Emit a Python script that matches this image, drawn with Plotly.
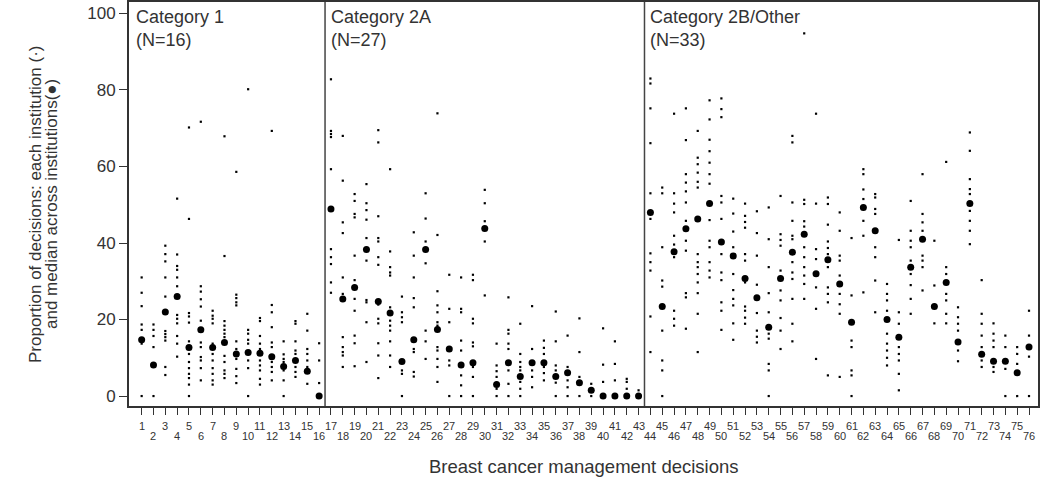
import plotly.graph_objects as go

decisions = list(range(1, 77))

# median across institutions, one per decision
medians = [
    14.7, 8.1, 22.0, 26.0, 12.7, 17.3, 12.7, 14.0, 11.0, 11.4, 11.2, 10.3, 7.7, 9.3, 6.5, 0.0,
    48.9, 25.4, 28.4, 38.3, 24.7, 21.7, 9.0, 14.7, 38.3, 17.4, 12.3, 8.1, 8.7, 43.8,
    3.0, 8.7, 5.1, 8.7, 8.7, 5.1, 6.1, 3.5, 1.5, 0.0, 0.0, 0.0, 0.0,
    48.0, 23.4, 37.7, 43.7, 46.3, 50.3, 40.3, 36.6, 30.7, 25.7, 18.0, 30.7, 37.6, 42.3,
    32.0, 35.6, 29.3, 19.3, 49.3, 43.2, 20.0, 15.4, 33.7, 41.0, 23.4, 29.7, 14.1, 50.3,
    10.9, 9.1, 9.1, 6.1, 12.8,
]

# each institution's proportion, per decision (Category 1: decisions 1-16)
inst_cat1 = [
    [31, 27, 23.5, 18.7, 17.3, 15, 14.5, 13.7, 0],
    [18.7, 17.3, 15.7, 12.8, 8, 0],
    [39.3, 37.1, 35.2, 31, 26, 22, 17, 16.2, 15.4, 14.5, 7.6, 5.5],
    [51.6, 37, 34, 33, 31, 28.7, 26, 21.2, 20.2, 19, 15.7, 13.7, 10.3],
    [70.2, 46.3, 21.7, 20.8, 19.2, 14.3, 12.7, 11, 8.9, 7.3, 5.8, 4.7, 3, 0],
    [71.7, 28.7, 27.3, 25.3, 23.4, 19.7, 17.3, 14, 12.8, 10.2, 9.3, 7.3, 4.1],
    [22.3, 21, 20.2, 19, 13.7, 12.7, 11, 9.3, 7.3, 5.8, 4.1, 3],
    [67.9, 36.6, 19.6, 18.4, 17.3, 16.3, 15.4, 14, 10.5, 8.9, 6.7, 5.8, 4.7],
    [58.6, 26.5, 25.6, 24.5, 23.7, 14.3, 12.3, 11, 9.7, 7.1, 5.2, 3.4],
    [80.2, 17.3, 16.3, 14.7, 13.7, 11.4, 9.3, 7.3, 0],
    [20.4, 19.6, 15.7, 13.7, 12.3, 11.2, 9.3, 8, 6.7, 4.5, 3],
    [69.3, 23.8, 21.9, 18, 14, 12.8, 10.3, 8.9, 7.6, 6.3, 4.1],
    [14.3, 10.9, 9.7, 8.9, 7.7, 6.7, 4.1, 0],
    [19.6, 18.9, 14.3, 11.9, 11, 9.3, 7.6, 6.3, 5],
    [21.5, 17.1, 12.3, 11, 9.3, 7.6, 6.5, 3.2],
    [13.8, 9.3, 3.4, 0],
]

# Category 2A: decisions 17-43
inst_cat2a = [
    [82.8, 69.3, 68.5, 67.7, 59.3, 48.9, 38.4, 36.3, 34.5, 29.7, 27],
    [68, 56.3, 45.4, 42.6, 31, 26.7, 25.4, 15.4, 12.8, 11.5, 10.6, 7.6],
    [52.8, 51, 47.6, 46.7, 36.7, 30.3, 28.4, 25.4, 22.3, 15.8, 13.8, 7.8],
    [55.4, 50.4, 48.6, 46.1, 41.3, 38.3, 35.4, 25.1, 24.5, 19.3, 8.9],
    [69.5, 66.3, 47, 41.3, 40.4, 36.3, 34.3, 24.7, 23.9, 20.2, 19, 13.8, 10.6, 4.7],
    [59.3, 37.8, 33.7, 32.3, 31.5, 23.2, 21.7, 19.7, 18.4, 17.1, 14.3, 10.6, 7.6],
    [26, 21.9, 20.6, 19.3, 9, 6.7, 5.8, 0],
    [42.8, 36.7, 31, 25.6, 23.2, 14.7, 12.3, 11.5, 6.3, 5.1],
    [53, 46.4, 40.4, 38.3, 34.7, 17.1, 14.3, 9.7],
    [73.9, 42.1, 27.4, 23.7, 21.9, 19.3, 18.4, 17.4, 12.8, 11.9, 9.7, 7.6, 3.7],
    [31.7, 22.8, 19.3, 12.3, 9.3, 8, 0],
    [31, 22.8, 21.9, 14.5, 11.9, 8.1, 5.4, 2.8, 0],
    [31.7, 30.3, 20.2, 19, 14, 13, 8.7, 7.6, 5, 0],
    [53.9, 50.4, 45.7, 43.8, 40.4, 26.3],
    [13.7, 8, 6.5, 5, 3, 1.9, 0],
    [25.8, 17.3, 16.3, 13.7, 12.3, 8.7, 6.7, 3.2, 0],
    [18.9, 11, 8.9, 7.6, 6.7, 5.1, 3.7, 1.9, 0],
    [23.5, 12.3, 8.7, 6.7, 5, 2.3],
    [14.5, 12.6, 11, 8.7, 7.6, 6, 4.1],
    [22.1, 14.3, 8, 6.7, 5.1, 3.5, 0],
    [15.8, 7.6, 6.1, 4.1, 2.3, 0],
    [20.3, 11.5, 5, 3.5, 0],
    [3.2, 1.5, 0],
    [17.7, 8.2, 3.7, 0],
    [14.3, 8.4, 4.1, 0],
    [4.5, 3.7, 1.9, 0],
    [1.5, 0],
]

# Category 2B/Other: decisions 44-76
inst_cat2b = [
    [83, 81.7, 75.2, 66.1, 53, 48, 46.3, 37.3, 35, 32.8, 20.8, 11.5],
    [54.5, 53, 38.9, 30.2, 28.6, 23.4, 17.1, 9.3, 6.7, 0],
    [73.8, 53, 50.3, 48, 41.9, 39.6, 37.7, 36.3, 22.3, 20.2, 18.4],
    [75.2, 66.9, 58, 55.8, 53.5, 50.6, 45.8, 43.7, 40.6, 38, 26.9, 25.8, 17.6],
    [69.3, 62.3, 60.6, 58.4, 56, 54.5, 46.3, 37.1, 35, 33.7, 31.9, 29.7, 26.9, 21.5, 11.5],
    [77.3, 72.3, 67, 64, 61, 58, 55.5, 50.3, 46, 40.6, 38.9, 35, 32.8, 31],
    [77.8, 75, 72.9, 52.3, 50.6, 46.3, 40.3, 37.1, 32.3, 30.3, 24.5, 22.3, 17.3],
    [51.6, 47.7, 43, 38.9, 37.1, 36.6, 31.9, 27.7, 25.4, 23.7, 19, 14.7],
    [50.3, 47.1, 45.5, 44, 37.1, 35.4, 30.7, 29.7, 23.4, 22.3, 20.5, 18.9],
    [48.3, 42.6, 36.7, 29.1, 25.7, 21.7, 17.1, 15.5, 14],
    [49.3, 41, 33.7, 26.9, 21.9, 18, 16.3, 15, 8.4, 6.7, 0],
    [52.3, 42.3, 40.8, 39.3, 32.8, 30.7, 27.6, 25, 20.4, 17.1, 12.3],
    [68, 66.3, 50.6, 45.8, 41.9, 41, 37.6, 35, 32.3, 30.6, 25.4, 18.9, 14.3],
    [94.8, 51.3, 50.2, 45.7, 44.3, 42.3, 38.9, 36.3, 33.7, 31.5, 29.3, 25.4],
    [73.8, 50.3, 38.4, 35.8, 32, 28.4, 22.8, 9.7],
    [51.9, 50.2, 44.8, 40.4, 38.7, 37.1, 35.6, 33.7, 28.4, 26.7, 24.5, 5.4],
    [48, 43.2, 36.7, 35.4, 31.5, 29.3, 26.7, 24, 21.5, 5],
    [41.3, 26.3, 19.3, 14.5, 12.8, 6.7, 5.4, 0],
    [59.3, 58, 54, 51.5, 49.3, 45.8, 41.9, 27.1],
    [52.8, 51.9, 48.9, 47.6, 43.2, 38.9, 36.3, 30.2, 21.9],
    [29.3, 26.7, 25, 22.3, 20, 16.3, 13.7, 11.9, 10, 8],
    [40.8, 21.9, 18.9, 15.4, 12.8, 11, 9.3, 5.8, 1.5],
    [51, 43.2, 40.6, 38.9, 35.4, 33.7, 31.9, 29, 25.4, 21.5],
    [58, 47.6, 45.4, 43.2, 41, 36.7, 35.4, 33.7, 27.6],
    [40.6, 28.9, 23.4, 19],
    [61.2, 33.7, 31.9, 29.7, 26.7, 25, 21.5, 19],
    [23.2, 20.6, 18.9, 17.1, 14.1, 11.9, 9.1],
    [68.9, 64.1, 56.7, 54.1, 52.8, 50.3, 48.4, 45.8, 43.2, 39.7],
    [30.3, 21.5, 18.9, 15.8, 12.8, 10.9, 9.3, 7.6],
    [19, 16.3, 14.5, 12.8, 9.1, 7.6, 6.3],
    [15.8, 12.8, 9.1, 7.1, 0],
    [12.8, 11, 8.4, 6.1, 0],
    [22.3, 15.8, 12.8, 10.3, 0],
]

categories = ["Category 1<br>(N=16)", "Category 2A<br>(N=27)", "Category 2B/Other<br>(N=33)"]
category_starts = [0, 16.5, 43.5]
tick_labels = [str(d) for d in decisions]
x_title = "Breast cancer management decisions"
y_title_lines = ["Proportion of decisions: each institution (·)",
                 "and median across institutions(●)"]

institutions = inst_cat1 + inst_cat2a + inst_cat2b
inst_x, inst_y = [], []
for d, vals in zip(decisions, institutions):
    for v in vals:
        inst_x.append(d)
        inst_y.append(v)

FONT = "Arial, Liberation Sans, sans-serif"
TXT = "#333"
fig = go.Figure()
fig.add_trace(go.Scatter(
    x=inst_x, y=inst_y, mode="markers",
    marker=dict(symbol="square", size=2.2, color="black", line=dict(width=0)),
    showlegend=False, hoverinfo="y"))
fig.add_trace(go.Scatter(
    x=decisions, y=medians, mode="markers",
    marker=dict(symbol="circle", size=7, color="black", line=dict(width=0)),
    showlegend=False))

for xs in category_starts[1:]:
    fig.add_shape(type="line", xref="x", yref="paper", x0=xs, x1=xs, y0=0, y1=1,
                  line=dict(color="#444", width=1.5))

for label, xs in zip(categories, category_starts):
    fig.add_annotation(x=xs, y=1, xref="x", yref="paper", text=label, showarrow=False,
                       xanchor="left", yanchor="top", align="left", xshift=4, yshift=-3,
                       font=dict(family=FONT, size=18, color=TXT))

# x tick labels: odd numbers on the upper row, even numbers on the lower row
for d, lab in zip(decisions, tick_labels):
    fig.add_annotation(x=d, y=0, xref="x", yref="paper", text=lab, showarrow=False,
                       xanchor="center", yanchor="top",
                       yshift=(-12 if d % 2 == 1 else -22),
                       font=dict(family=FONT, size=11, color=TXT))

fig.add_annotation(x=0.5, y=0, xref="paper", yref="paper", text=x_title, showarrow=False,
                   xanchor="center", yanchor="middle", yshift=-60,
                   font=dict(family=FONT, size=18.5, color=TXT))

for i, line in enumerate(y_title_lines):
    fig.add_annotation(x=0, y=0.5, xref="paper", yref="paper", text=line, showarrow=False,
                       textangle=-90, xanchor="center", yanchor="middle",
                       xshift=(-94 if i == 0 else -78),
                       font=dict(family=FONT, size=17, color=TXT))

fig.update_layout(
    width=1050, height=490,
    margin=dict(l=129, r=12, t=2, b=84),
    plot_bgcolor="white", paper_bgcolor="white",
    font=dict(family=FONT, color=TXT),
    xaxis=dict(
        range=[-0.07, 76.76], tickmode="array", tickvals=decisions,
        showticklabels=False, automargin=False,
        ticks="outside", ticklen=7, tickcolor="#333", tickwidth=1,
        showline=True, linecolor="#333", linewidth=2, mirror=True,
        showgrid=False, zeroline=False,
    ),
    yaxis=dict(
        range=[-2.6, 103], tickvals=[0, 20, 40, 60, 80, 100], automargin=False,
        ticks="outside", ticklen=8, tickcolor="#333", tickwidth=1,
        tickfont=dict(family=FONT, size=17, color=TXT),
        showline=True, linecolor="#333", linewidth=2, mirror=True,
        showgrid=False, zeroline=False,
    ),
)

fig.write_html("out.html", config={"displayModeBar": False},
               post_script="document.body.style.margin='0';document.body.style.overflow='hidden';")
